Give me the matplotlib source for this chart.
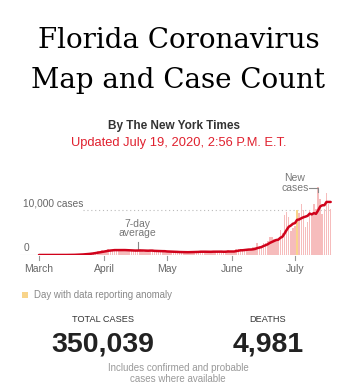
import matplotlib
matplotlib.use("Agg")
import matplotlib.pyplot as plt
from matplotlib import font_manager

# Daily new cases, Mar 1 - Jul 18 2020
cases_mar = [2, 0, 1, 1, 2, 2, 4, 3, 3, 4, 5, 7, 18, 26, 26, 41, 60, 76, 130, 128,
             187, 233, 261, 300, 438, 488, 570, 739, 799, 745, 1030]
cases_apr = [1000, 1032, 1260, 1120, 1210, 1000, 1060, 1150, 1100, 1040, 1150, 1050, 900, 1000, 920,
             880, 1100, 1300, 1000, 750, 800, 900, 1050, 1100, 870, 800, 700, 650, 840, 1000]
cases_may = [700, 750, 600, 600, 540, 660, 800, 700, 600, 500, 560, 640, 780, 870, 780, 700,
             800, 620, 600, 700, 800, 760, 900, 750, 700, 650, 700, 600, 850, 1200, 750]
cases_jun = [670, 700, 1320, 1400, 1300, 1270, 1180, 960, 1100, 1370, 1700, 1900, 2580, 2000, 1760,
             2780, 2600, 3200, 4000, 4050, 3500, 3290, 3290, 5510, 5000, 8940, 9590, 8530, 5270, 6090]
cases_jul = [6560, 10110, 9490, 11460, 10060, 6340, 7350, 9990, 8940, 11430, 10360, 15300,
             12620, 9190, 10180, 13970, 11470, 10330]

# 7-day average line
avg_mar = [2, 1, 1, 1, 1, 1, 2, 2, 2, 3, 3, 4, 6, 9, 13, 18, 26, 36, 54, 70,
           93, 122, 154, 188, 240, 291, 354, 433, 514, 583, 687]
avg_apr = [767, 845, 944, 998, 1057, 1093, 1097, 1119, 1129, 1097, 1101, 1079, 1064, 1056, 1023,
           991, 1000, 1021, 1014, 993, 964, 961, 986, 986, 924, 896, 889, 867, 859, 851]
avg_may = [794, 777, 749, 734, 719, 693, 664, 664, 643, 629, 623, 637, 654, 664, 676, 690,
           733, 741, 736, 724, 714, 711, 740, 733, 744, 751, 751, 723, 736, 779, 779]
avg_jun = [774, 781, 870, 984, 1049, 1059, 1120, 1161, 1219, 1226, 1269, 1354, 1541, 1659, 1773,
           2013, 2189, 2403, 2703, 2913, 3127, 3346, 3419, 3834, 4091, 4797, 5589, 6307, 6590, 6990]
avg_jul = [7140, 7870, 7949, 8216, 8434, 8587, 8767, 9257, 9090, 9367, 9210, 9959,
           10856, 11119, 11146, 11864, 11870, 11866]

anomaly_day = 123  # July 2
month_labels = ["March", "April", "May", "June", "July"]
month_starts = [0, 31, 61, 92, 122]

total_cases = "350,039"
total_deaths = "4,981"

cases = cases_mar + cases_apr + cases_may + cases_jun + cases_jul
avg = avg_mar + avg_apr + avg_may + avg_jun + avg_jul
days = list(range(len(cases)))


def pick(*names):
    have = {f.name for f in font_manager.fontManager.ttflist}
    for n in names:
        if n in have:
            return n
    return "DejaVu Sans"


SANS = pick("Liberation Sans Narrow", "Liberation Sans")
SANS_W = pick("Liberation Sans")
SERIF = pick("DejaVu Serif", "Liberation Serif")

W, H = 358, 392
fig = plt.figure(figsize=(W / 100, H / 100), dpi=100)


def txt(x, y, s, **kw):
    # place text using pixel coords of the reference
    fig.text(x / W, 1 - y / H, s, **kw)


# header
txt(178.5, 40, "Florida Coronavirus", family=SERIF, fontsize=20,
    color="#000000", ha="center", va="center")
txt(178, 81, "Map and Case Count", family=SERIF, fontsize=20,
    color="#000000", ha="center", va="center")
txt(174, 126, "By The New York Times", family=SANS, fontsize=8.5, weight="bold",
    color="#333333", ha="center", va="center")
txt(178.5, 143, "Updated July 19, 2020, 2:56 P.M. E.T.", family=SANS, fontsize=9.3,
    color="#e0202e", ha="center", va="center")

# chart
px_day = 256 / 122.0
x0 = -0.5 - (37.95 - 20) / px_day
x1 = 139.5
ax = fig.add_axes([20 / W, 1 - 255 / H, (px_day * (x1 - x0)) / W, 80 / H])
ymax = 80 / 4.47 * 1000
ax.set_xlim(x0, x1)
ax.set_ylim(0, ymax)
ax.axis("off")

bar_colors = ["#f8d48a" if d == anomaly_day else "#f6bcbc" for d in days]
ax.bar(days, cases, width=0.75, color=bar_colors, linewidth=0, zorder=2)
ax.plot(days, avg, color="#d0021b", linewidth=1.8, zorder=4, solid_capstyle="round")

ax.axhline(0, color="#cccccc", linewidth=0.8, zorder=1)
ax.hlines(10000, 21, x1, colors="#bbbbbb", linestyles=(0, (1, 2.5)), linewidth=0.8, zorder=1)
ax.text(x0 + 1.5, 10400, "10,000 cases", family=SANS, fontsize=7.3, color="#666666",
        ha="left", va="bottom")
ax.text(x0 + 1.8, 500, "0", family=SANS, fontsize=7.3, color="#666666",
        ha="left", va="bottom")

for d, lab in zip(month_starts, month_labels):
    ax.plot([d, d], [-300, -1200], color="#999999", linewidth=0.8, clip_on=False)
    ax.text(d, -3100, lab, family=SANS, fontsize=7.5, color="#666666",
            ha="center", va="center")

# annotations
ax.text(47, 5900, "7-day\naverage", family=SANS, fontsize=7.5, color="#777777",
        ha="center", va="center", linespacing=0.95)
ax.plot([47, 47], [1100, 3000], color="#888888", linewidth=0.8)
ax.text(122, 16100, "New\ncases", family=SANS, fontsize=7.5, color="#777777",
        ha="center", va="center", linespacing=0.95)
ax.plot([128.5, 133, 133], [15000, 15000, 14100], color="#888888", linewidth=0.8,
        clip_on=False)

# legend
fig.patches.append(plt.Rectangle((22 / W, 1 - 298 / H), 6 / W, 6 / H, transform=fig.transFigure,
                                 color="#f8d48a", linewidth=0))
txt(34, 295, "Day with data reporting anomaly", family=SANS, fontsize=6.9,
    color="#888888", ha="left", va="center")

# totals
txt(103.5, 320, "TOTAL CASES", family=SANS, fontsize=6.6, color="#333333", ha="center", va="center")
txt(268, 320, "DEATHS", family=SANS, fontsize=6.6, color="#333333", ha="center", va="center")
txt(103, 345, total_cases, family=SANS_W, fontsize=20.5, weight="bold", color="#222222",
    ha="center", va="center")
txt(268, 345, total_deaths, family=SANS_W, fontsize=20.5, weight="bold", color="#222222",
    ha="center", va="center")
txt(178, 368, "Includes confirmed and probable", family=SANS, fontsize=7.05,
    color="#999999", ha="center", va="center")
txt(178, 379, "cases where available", family=SANS, fontsize=7.05,
    color="#999999", ha="center", va="center")

fig.savefig("out.png", dpi=100, facecolor="white")
